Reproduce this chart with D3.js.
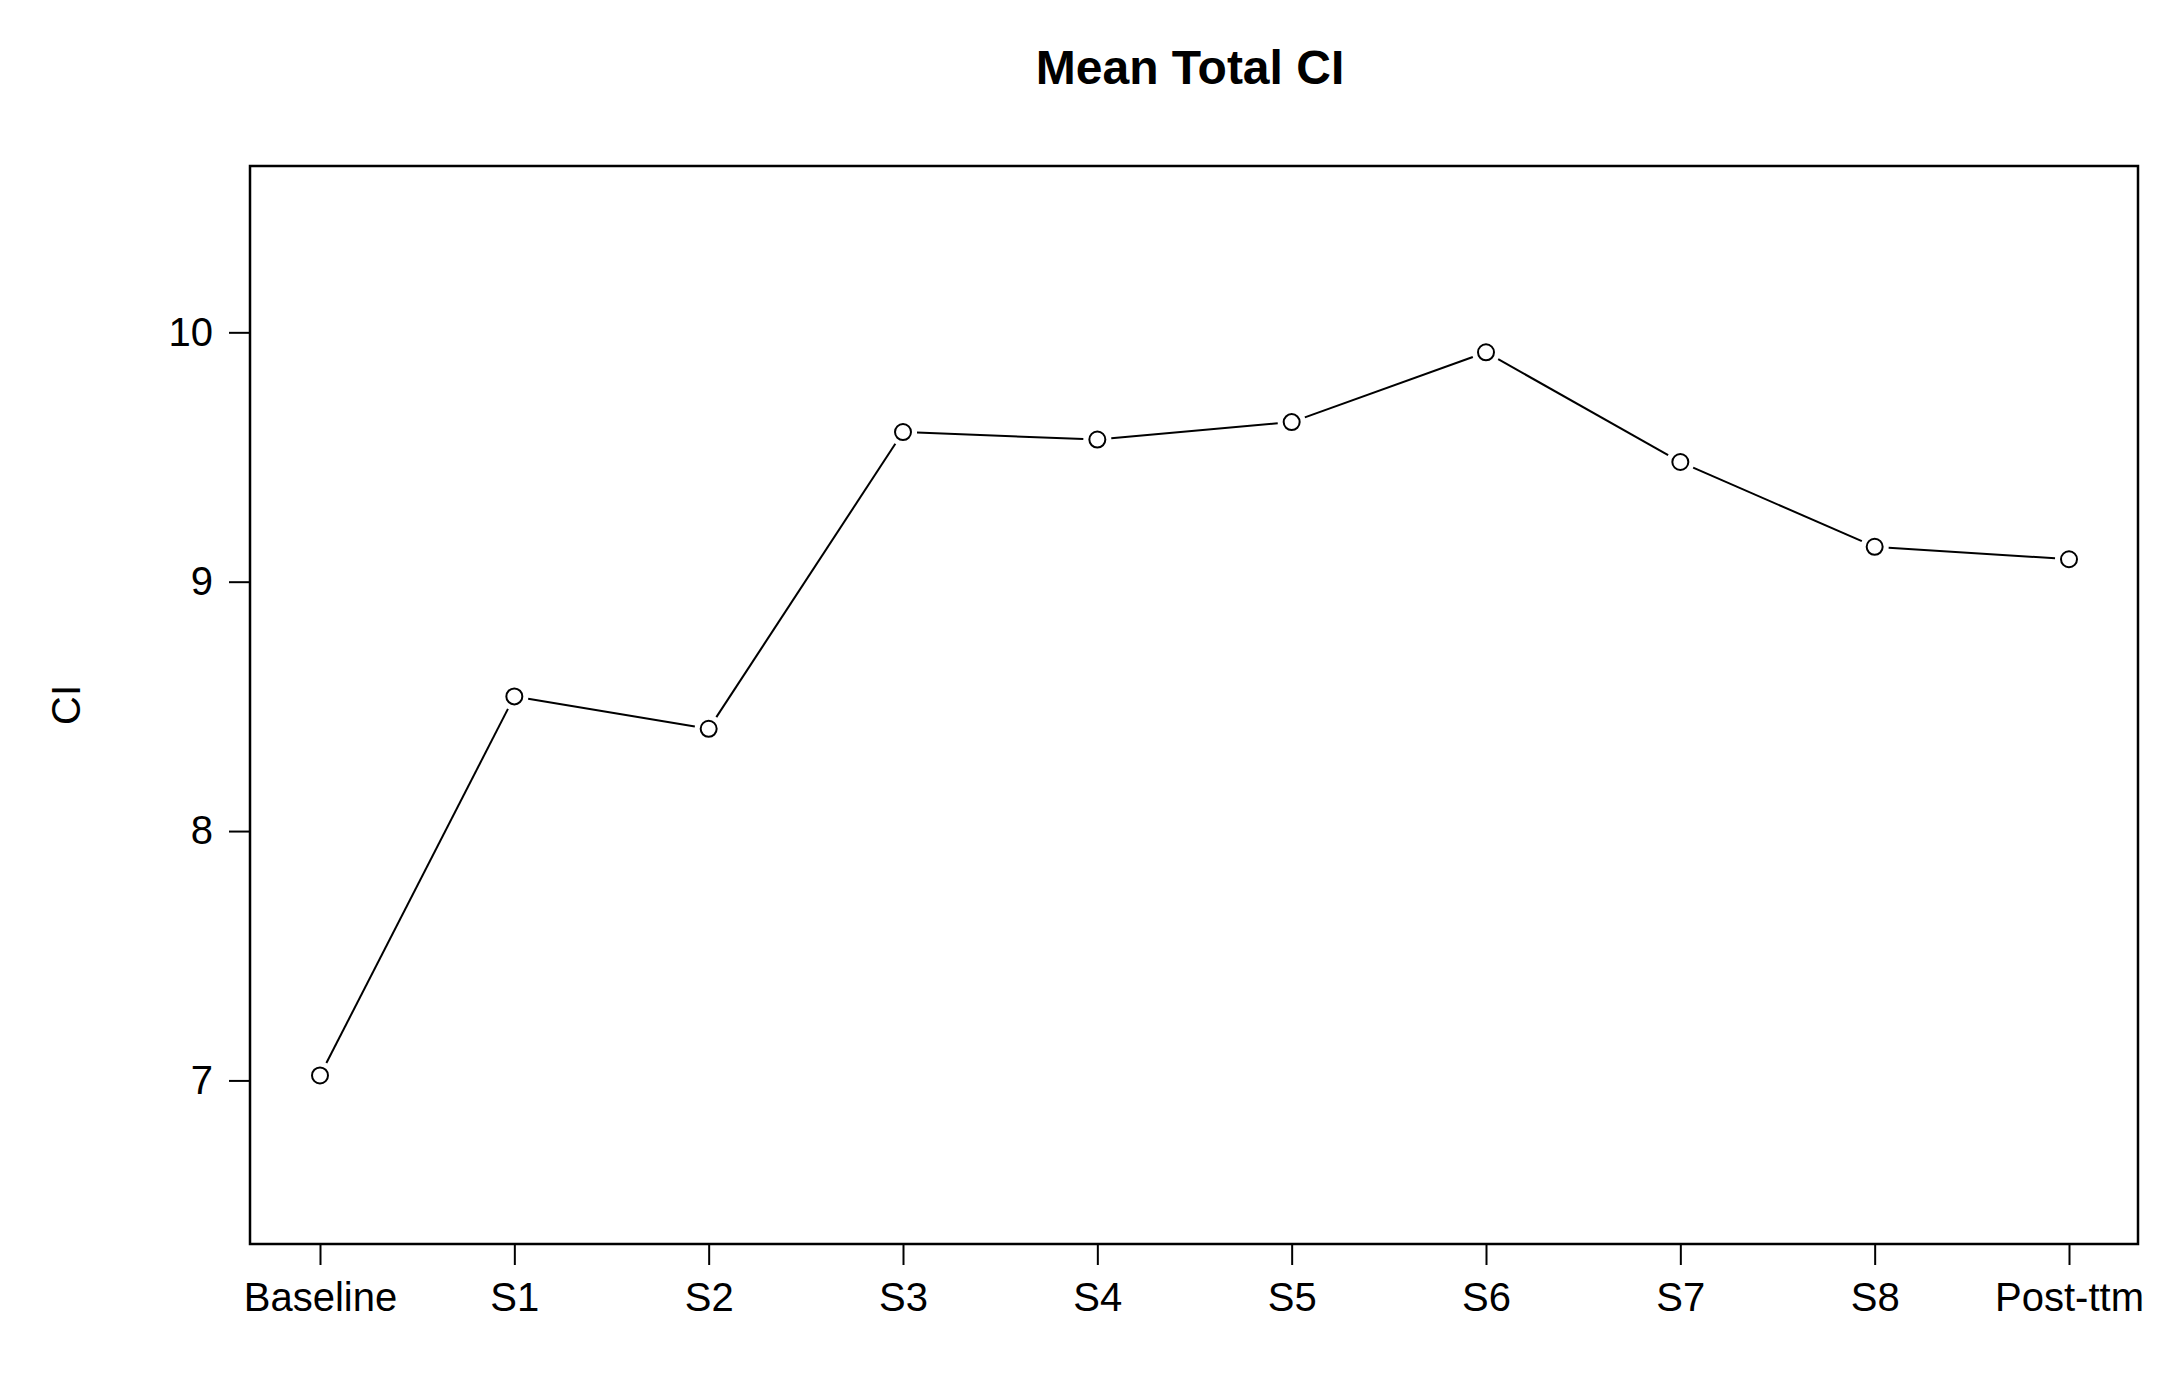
<!DOCTYPE html>
<html>
<head>
<meta charset="utf-8">
<script src="https://cdnjs.cloudflare.com/ajax/libs/d3/7.8.5/d3.min.js"></script>
<style>body{margin:0;background:#fff;} text{font-family:"Liberation Sans",Arial,sans-serif;}</style>
</head>
<body>
<script>
var categories = ["Baseline","S1","S2","S3","S4","S5","S6","S7","S8","Post-ttm"];
var values = [7.02, 8.54, 8.41, 9.60, 9.57, 9.64, 9.92, 9.48, 9.14, 9.09];
var yTicks = [7, 8, 9, 10];

var width = 2181, height = 1384;
var boxLeft = 250, boxRight = 2138, boxTop = 166, boxBottom = 1244;

var svg = d3.select("body").append("svg").attr("width", width).attr("height", height);

var x = d3.scaleLinear().domain([1, 10]).range([320, 2069]);
var y = d3.scaleLinear().domain([6.344, 10.667]).range([boxBottom, boxTop]);

// box
svg.append("rect").attr("x", boxLeft).attr("y", boxTop).attr("width", boxRight - boxLeft).attr("height", boxBottom - boxTop)
  .attr("fill", "none").attr("stroke", "#000").attr("stroke-width", 2.5);

// x axis
var xAxis = svg.append("g").attr("transform", "translate(0," + boxBottom + ")")
  .call(d3.axisBottom(x).tickValues(d3.range(1, 11)).tickFormat(function(d){ return categories[d-1]; }).tickSize(21).tickPadding(18));
xAxis.select(".domain").remove();
xAxis.selectAll(".tick line").attr("stroke-width", 2);
xAxis.selectAll(".tick text").attr("font-size", 40).attr("fill", "#000");

// y axis
var yAxis = svg.append("g").attr("transform", "translate(" + boxLeft + ",0)")
  .call(d3.axisLeft(y).tickValues(yTicks).tickFormat(d3.format("d")).tickSize(21).tickPadding(16));
yAxis.select(".domain").remove();
yAxis.selectAll(".tick line").attr("stroke-width", 2);
yAxis.selectAll(".tick text").attr("font-size", 40).attr("fill", "#000");

// line segments with gaps around points (type = "b")
var pts = values.map(function(v, i){ return [x(i + 1), y(v)]; });
var gap = 14;
for (var i = 0; i < pts.length - 1; i++) {
  var a = pts[i], b = pts[i+1];
  var dx = b[0] - a[0], dy = b[1] - a[1], len = Math.sqrt(dx*dx + dy*dy);
  var ux = dx / len, uy = dy / len;
  svg.append("line")
    .attr("x1", a[0] + ux*gap).attr("y1", a[1] + uy*gap)
    .attr("x2", b[0] - ux*gap).attr("y2", b[1] - uy*gap)
    .attr("stroke", "#000").attr("stroke-width", 2);
}

svg.selectAll("circle.pt").data(values).enter().append("circle")
  .attr("cx", function(d, i){ return x(i + 1); })
  .attr("cy", function(d){ return y(d); })
  .attr("r", 8).attr("fill", "#fff").attr("stroke", "#000").attr("stroke-width", 2);

svg.append("text").attr("x", (boxLeft + boxRight) / 2 - 4).attr("y", 84).attr("text-anchor", "middle")
  .attr("font-size", 48).attr("font-weight", "bold").text("Mean Total CI");

svg.append("text").attr("transform", "translate(80," + ((boxTop + boxBottom) / 2) + ") rotate(-90)")
  .attr("text-anchor", "middle").attr("font-size", 40).text("CI");
</script>
</body>
</html>
